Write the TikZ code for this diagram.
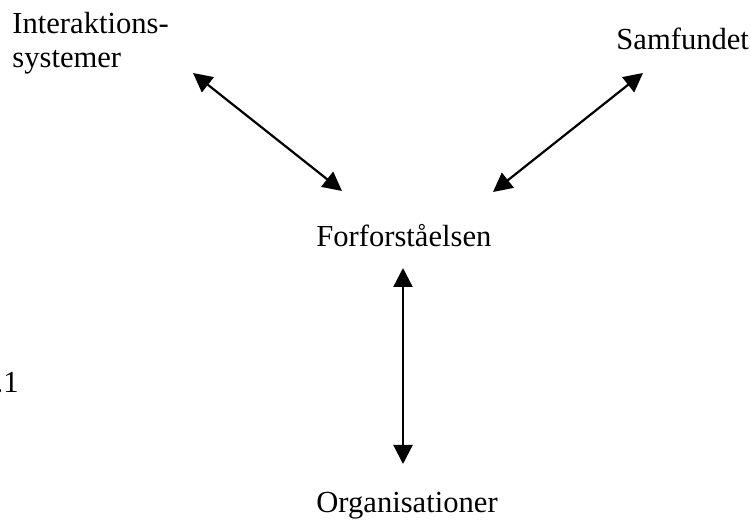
\documentclass[tikz,border=0pt]{standalone}
\usepackage{fontspec}
\setmainfont{Liberation Serif}
\usetikzlibrary{arrows.meta}
\begin{document}
\begin{tikzpicture}[x=0.5pt,y=-0.5pt,
  lbl/.style={inner sep=0pt,font=\fontsize{15.3}{17}\selectfont,anchor=base west},
  link/.style={line width=1.1pt,{Triangle[length=9.5pt,width=9.5pt]}-{Triangle[length=9.5pt,width=9.5pt]}}]
\useasboundingbox (0,0) rectangle (751,523);
\node[lbl] (inter) at (12,34) {Interaktions-};
\node[lbl] (inter2) at (12,68) {systemer};
\node[lbl] (samf) at (616,50) {Samfundet};
\node[lbl] (forf) at (316,247) {Forforståelsen};
\node[lbl] (org) at (316,513) {Organisationer};
\node[lbl,anchor=base east] (one) at (19,393) {.1};
\coordinate (a1) at (193,73);
\coordinate (a2) at (342,191);
\coordinate (b1) at (643,73);
\coordinate (b2) at (493,192);
\coordinate (c1) at (403,268);
\coordinate (c2) at (403,464);
\draw[link] (a1) -- (a2);
\draw[link] (b1) -- (b2);
\draw[link] (c1) -- (c2);
\end{tikzpicture}
\end{document}
